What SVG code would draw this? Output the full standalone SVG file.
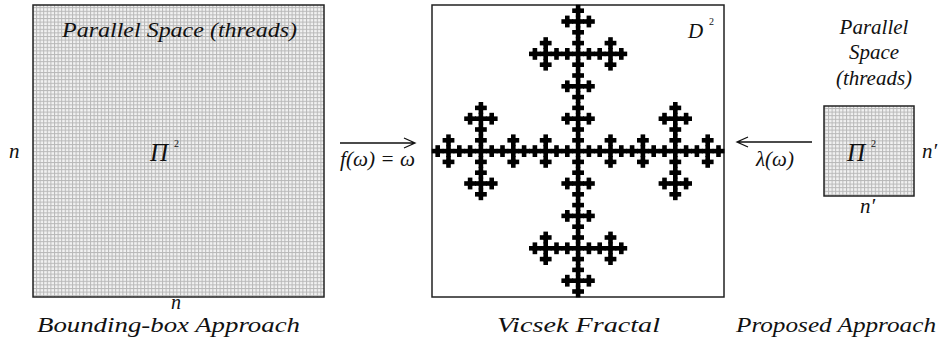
<svg xmlns="http://www.w3.org/2000/svg" xmlns:xlink="http://www.w3.org/1999/xlink" width="944" height="343" viewBox="0 0 944 343">
<style>
.lbl{font-size:21px}
.pi{font-size:25px}
.sup{font-size:10px;font-style:normal}
.box{stroke:#222;stroke-width:1.5}
.arr{stroke:#111;stroke-width:1.3;fill:none}
</style>
<defs>
<pattern id="grid" width="3.6" height="3.6" patternUnits="userSpaceOnUse">
<rect width="3.6" height="3.6" fill="#f2f2f2"/>
<rect width="1" height="3.6" fill="#b8b8b8"/>
<rect width="3.6" height="1" fill="#b8b8b8"/>
</pattern>
<rect id="a" x="-0.5" y="-0.5" width="4.6" height="4.6" fill="#000"/>
<g id="b"><use xlink:href="#a" x="3.6" y="0"/><use xlink:href="#a" x="0" y="3.6"/><use xlink:href="#a" x="3.6" y="3.6"/><use xlink:href="#a" x="7.2" y="3.6"/><use xlink:href="#a" x="3.6" y="7.2"/></g>
<g id="c"><use xlink:href="#b" x="10.8" y="0"/><use xlink:href="#b" x="0" y="10.8"/><use xlink:href="#b" x="10.8" y="10.8"/><use xlink:href="#b" x="21.6" y="10.8"/><use xlink:href="#b" x="10.8" y="21.6"/></g>
<g id="d"><use xlink:href="#c" x="32.4" y="0"/><use xlink:href="#c" x="0" y="32.4"/><use xlink:href="#c" x="32.4" y="32.4"/><use xlink:href="#c" x="64.8" y="32.4"/><use xlink:href="#c" x="32.4" y="64.8"/></g>
</defs>

<g font-family="'Liberation Serif', 'Times New Roman', Times, serif" font-style="italic" fill="#111">
<g id="bounding-box">
<rect x="33" y="5" width="291" height="292" fill="url(#grid)" class="box"/>
<text class="lbl" x="62" y="37" textLength="235" lengthAdjust="spacingAndGlyphs">Parallel Space (threads)</text>
<text class="pi" x="150" y="161">Π</text><text class="sup" x="174" y="147">2</text>
<text class="lbl" x="9" y="158">n</text>
<text x="171" y="309" font-size="20">n</text>
<text class="lbl" x="37" y="332" textLength="263" lengthAdjust="spacingAndGlyphs">Bounding-box Approach</text>
</g>

<g id="vicsek">
<rect x="432" y="5" width="292" height="292" fill="#fff" class="box"/>
<g transform="translate(432.3,5.3)" fill="#000">
<use xlink:href="#d" x="97.2" y="0"/><use xlink:href="#d" x="0" y="97.2"/><use xlink:href="#d" x="97.2" y="97.2"/><use xlink:href="#d" x="194.4" y="97.2"/><use xlink:href="#d" x="97.2" y="194.4"/>
</g>
<text class="lbl" x="688" y="38">D</text><text class="sup" x="709" y="25">2</text>
<text class="lbl" x="497" y="332" textLength="163" lengthAdjust="spacingAndGlyphs">Vicsek Fractal</text>
</g>

<g id="proposed">
<rect x="824" y="106" width="90" height="90" fill="url(#grid)" class="box"/>
<text class="lbl" x="874" y="34" text-anchor="middle">Parallel</text>
<text class="lbl" x="874" y="59" text-anchor="middle">Space</text>
<text class="lbl" x="874" y="85" text-anchor="middle">(threads)</text>
<text class="pi" x="847" y="161">Π</text><text class="sup" x="871" y="147">2</text>
<text class="lbl" x="922" y="158">n′</text>
<text class="lbl" x="860" y="213">n′</text>
<text class="lbl" x="736" y="332" textLength="200" lengthAdjust="spacingAndGlyphs">Proposed Approach</text>
</g>

<g id="connectors">
<path class="arr" d="M340 143H415M404 138L415 143L404 148"/>
<text class="lbl" x="340" y="166" textLength="75" lengthAdjust="spacingAndGlyphs">f(ω) = ω</text>
<path class="arr" d="M812 142H737M748 137L737 142L748 147"/>
<text class="lbl" x="756" y="166">λ(ω)</text>
</g>
</g>
</svg>
